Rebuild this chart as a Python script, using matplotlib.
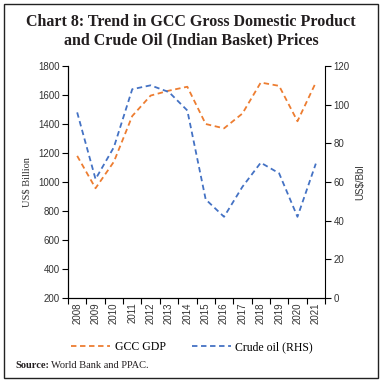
import matplotlib
matplotlib.use("Agg")
import matplotlib.pyplot as plt
from matplotlib.lines import Line2D
from matplotlib.patches import Rectangle

years = ["2008", "2009", "2010", "2011", "2012", "2013", "2014",
         "2015", "2016", "2017", "2018", "2019", "2020", "2021"]
gcc_gdp = [1180, 957, 1140, 1455, 1596, 1630, 1657,
           1400, 1370, 1472, 1686, 1663, 1419, 1686]
crude_oil = [96, 61.5, 78, 108, 110, 106.5, 97,
             51, 42, 57.5, 70, 64.5, 42, 69.5]

orange = "#ed7d31"
blue = "#4472c4"
serif = "Liberation Serif"
sans = "Liberation Sans"

fig = plt.figure(figsize=(3.83, 3.84), dpi=100)
W, H = 383, 384

# frame around whole chart
fig.patches.append(Rectangle((4 / W, 1 - 378 / H), 374 / W, 374 / H,
                             transform=fig.transFigure, fill=False,
                             edgecolor="#222222", linewidth=1.0))

fig.text(191 / W, 1 - 22 / H, "Chart 8: Trend in GCC Gross Domestic Product",
         ha="center", va="center", fontsize=11.5, fontweight="bold",
         family=serif, color="#231f20")
fig.text(191 / W, 1 - 40 / H, "and Crude Oil (Indian Basket) Prices",
         ha="center", va="center", fontsize=11.5, fontweight="bold",
         family=serif, color="#231f20")

ax = fig.add_axes([68 / W, 1 - 298 / H, 257 / W, 232 / H])
x = list(range(len(years)))
ax.plot(x, gcc_gdp, color=orange, linestyle=(0, (3, 2)), linewidth=1.3)
ax.set_ylim(200, 1800)
ax.set_yticks(range(200, 1801, 200))
ax.set_xlim(-0.5, len(years) - 0.5)
ax.set_xticks([i - 0.5 for i in range(len(years) + 1)])
ax.set_xticklabels([])
ax.set_xticks(x, minor=True)
ax.set_xticklabels(years, minor=True, rotation=90, fontsize=7, family=sans,
                   color="#333333")
ax.tick_params(axis="x", which="minor", length=0, pad=3)
ax.tick_params(axis="x", which="major", length=4, width=0.8, direction="out")
ax.tick_params(axis="y", length=4, width=0.8, labelsize=7, pad=2,
               labelcolor="#333333")
for lbl in ax.get_yticklabels():
    lbl.set_family(sans)
ax.set_ylabel("US$ Billion", family=serif, fontsize=7.5, color="#333333",
              labelpad=5)
ax.spines["top"].set_visible(False)
ax.spines["right"].set_visible(False)

ax2 = ax.twinx()
ax2.plot(x, crude_oil, color=blue, linestyle=(0, (3, 2)), linewidth=1.3)
ax2.set_ylim(0, 120)
ax2.set_yticks(range(0, 121, 20))
ax2.tick_params(axis="y", length=4, width=0.8, labelsize=7, pad=2,
                labelcolor="#333333")
for lbl in ax2.get_yticklabels():
    lbl.set_family(sans)
ax2.set_ylabel("US$/Bbl", family=sans, fontsize=7, color="#333333",
               labelpad=4)
ax2.spines["top"].set_visible(False)

handles = [Line2D([], [], color=orange, linestyle=(0, (3, 2)), linewidth=1.3),
           Line2D([], [], color=blue, linestyle=(0, (3, 2)), linewidth=1.3)]
fig.legend(handles, ["GCC GDP", "Crude oil (RHS)"], loc="center",
           bbox_to_anchor=(192 / W, 1 - 347 / H), ncol=2, frameon=False,
           prop={"family": serif, "size": 8.5}, handlelength=3.3,
           handletextpad=0.4, columnspacing=2.2)

src = fig.text(15 / W, 1 - 365 / H, "Source:", ha="left", va="center",
               fontsize=7.5, fontweight="bold", family=serif, color="#231f20")
fig.canvas.draw()
bb = src.get_window_extent()
fig.text(bb.x1 / W + 2 / W, 1 - 365 / H, "World Bank and PPAC.", ha="left",
         va="center", fontsize=7.5, family=serif, color="#231f20")

fig.savefig("out.png", dpi=100)
